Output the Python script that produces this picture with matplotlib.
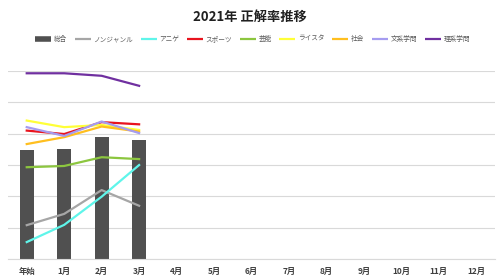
import matplotlib
matplotlib.use('Agg')
import matplotlib.pyplot as plt
from matplotlib.lines import Line2D

plt.rcParams['font.family'] = ['Noto Sans CJK JP', 'DejaVu Sans']

months = ['年始', '1月', '2月', '3月', '4月', '5月', '6月',
          '7月', '8月', '9月', '10月', '11月', '12月']

total = [34.8, 35.1, 39.0, 38.0]
series_names = ['ノンジャンル', 'アニゲ', 'スポーツ', '芸能', 'ライスタ',
                '社会', '文系学問', '理系学問']
nongenre = [10.8, 14.4, 22.0, 17.0]
anige = [5.4, 10.9, 19.9, 30.0]
sports = [41.0, 39.9, 43.7, 43.0]
geino = [29.3, 29.7, 32.5, 31.9]
raisuta = [44.2, 42.1, 42.8, 41.2]
shakai = [36.7, 38.9, 42.3, 40.7]
bunkei = [42.1, 39.3, 43.9, 40.2]
rikei = [59.3, 59.3, 58.5, 55.3]

series = [nongenre, anige, sports, geino, raisuta, shakai, bunkei, rikei]
colors = ['#a6a6a6', '#5ff5ea', '#e8141e', '#8cc63f', '#ffff38',
          '#ffbf1f', '#a59cf0', '#7030a0']
bar_color = '#505050'

fig = plt.figure(figsize=(5, 2.79), dpi=100)
ax = fig.add_axes([0.016, 0.0717, 0.974, 0.6735])

x = list(range(len(months)))
ax.bar(x[:len(total)], total, width=0.38, color=bar_color, zorder=2)
for vals, c in zip(series, colors):
    ax.plot(x[:len(vals)], vals, color=c, lw=1.6, zorder=3)

ax.set_xlim(-0.5, len(months) - 0.5)
ax.set_ylim(0, 60)
ax.set_yticks(range(0, 61, 10))
ax.yaxis.grid(True, color='#d9d9d9', lw=0.8)
ax.set_axisbelow(True)
ax.tick_params(axis='y', left=False, labelleft=False)
ax.tick_params(axis='x', length=0, pad=6)
ax.set_xticks(x)
ax.set_xticklabels(months, fontsize=6, fontweight='bold', color='#404040')
for s in ['top', 'right', 'left']:
    ax.spines[s].set_visible(False)
ax.spines['bottom'].set_color('#d9d9d9')

fig.text(0.5, 0.94, '2021年 正解率推移', ha='center', va='center',
         fontsize=9.5, fontweight='bold', color='#202020')

handles = [Line2D([], [], color=bar_color, lw=4, solid_capstyle='butt')]
handles += [Line2D([], [], color=c, lw=1.6, solid_capstyle='butt')
            for c in colors]
labels = ['総合'] + series_names
fig.legend(handles, labels, loc='center', bbox_to_anchor=(0.505, 0.86),
           ncol=9, frameon=False, fontsize=4.8, handlelength=2.4,
           handletextpad=0.4, columnspacing=1.15, labelcolor='#595959')

fig.savefig('out.png', dpi=100)
